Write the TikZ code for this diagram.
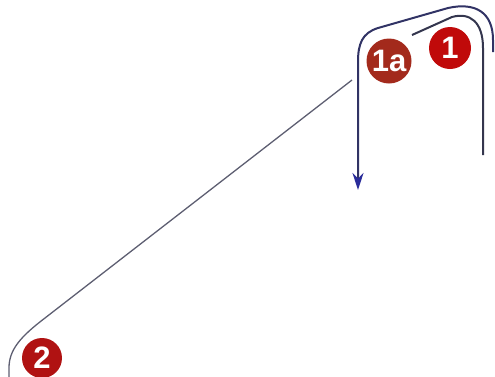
\documentclass[tikz,border=0pt]{standalone}
\usepackage{fontspec}
\setmainfont{Liberation Sans}
\usetikzlibrary{arrows.meta}

\definecolor{badgeA}{HTML}{A32A1C}
\definecolor{badgeB}{HTML}{C00A0A}
\definecolor{badgeC}{HTML}{B01212}
\definecolor{route}{HTML}{34364E}
\definecolor{routeBlue}{HTML}{2A2C9A}

\begin{document}
\begin{tikzpicture}[
    x=1pt, y=-1pt,
    badge/.style={circle, inner sep=0pt, minimum size=42pt, text=white, font=\fontsize{31}{31}\selectfont\bfseries},
    track/.style={draw=route, line width=2pt},
    arrow/.style={-{Stealth[length=17pt, width=11pt, color=routeBlue]}, draw=route!70!routeBlue, line width=2pt}
]
\useasboundingbox (0,0) rectangle (495,376);

\node[badge, fill=badgeA, minimum size=45pt] (B1a) at (389,61) {1a};
\node[badge, fill=badgeB] (B1) at (450,48) {1};
\node[badge, fill=badgeC, minimum size=40pt] (B2) at (42,358) {2};

\coordinate (outerEnd) at (493,52);
\coordinate (innerEnd) at (483,155);
\coordinate (innerStart) at (412,35);
\coordinate (arrowTip) at (358,190);
\coordinate (diagTop) at (352,80);
\coordinate (diagEnd) at (9,380);

% outer loop into the arrow
\draw[arrow] (outerEnd) -- (493,40) .. controls (493,12) and (475,2) .. (448,8)
  -- (378,28) .. controls (362,33) and (358,44) .. (358,62) -- (arrowTip);

% inner loop
\draw[track] (innerEnd) -- (483,48) .. controls (483,22) and (470,12) .. (452,17)
  -- (innerStart);

% long diagonal down to 2
\draw[draw=route!80, line width=1.3pt] (diagTop) -- (45,318)
  .. controls (20,337) and (9,350) .. (9,368) -- (diagEnd);
\end{tikzpicture}
\end{document}
